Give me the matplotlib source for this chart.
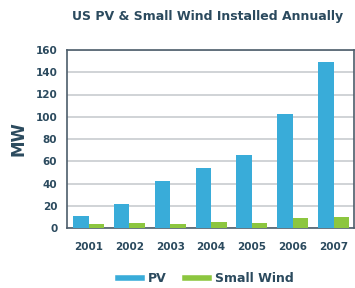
import matplotlib
matplotlib.use("Agg")
import matplotlib.pyplot as plt
from matplotlib.lines import Line2D
import numpy as np

years = ["2001", "2002", "2003", "2004", "2005", "2006", "2007"]
pv = [11, 22, 42.5, 54, 66, 102.5, 149.5]
small_wind = [3.3, 4.2, 3.3, 5.1, 4.5, 8.7, 10.2]

pv_color = "#39acd9"
wind_color = "#8cc63f"
text_color = "#2b4a5e"
spine_color = "#4d5e6b"
grid_color = "#c8ccd0"

plt.rcParams['font.family'] = ['DejaVu Sans']

fig = plt.figure(figsize=(3.55, 2.88), dpi=100)
ax = fig.add_axes([67/355, 1 - 228/288, (354-67)/355, (228-50)/288])

x = np.arange(len(years))
w = 0.38
ax.bar(x - w/2, pv, w, color=pv_color, zorder=3)
ax.bar(x + w/2, small_wind, w, color=wind_color, zorder=3)

ax.set_xlim(-0.53, 6.5)
ax.set_ylim(0, 160)
ax.set_yticks(range(0, 161, 20))
ax.set_xticks(x)
ax.set_xticklabels(years)
ax.yaxis.grid(True, color=grid_color, linewidth=1.2, zorder=0)
ax.tick_params(axis='both', length=0, colors=text_color, labelsize=7.5)
ax.tick_params(axis='x', pad=10)
ax.tick_params(axis='y', pad=7)
for lab in ax.get_xticklabels() + ax.get_yticklabels():
    lab.set_fontweight('bold')
for s in ax.spines.values():
    s.set_color(spine_color)
    s.set_linewidth(1.2)

ax.set_ylabel("MW", fontsize=12, fontweight='bold', color=text_color)
ax.yaxis.set_label_coords(-0.138, 0.5)
fig.text(0.585, 0.942, "US PV & Small Wind Installed Annually", ha='center', va='center',
         fontsize=9, fontweight='bold', color=text_color)

handles = [Line2D([0], [0], color=pv_color, lw=4),
           Line2D([0], [0], color=wind_color, lw=4)]
leg = fig.legend(handles, ["PV", "Small Wind"], loc='center', bbox_to_anchor=(0.58, 0.032),
                 ncol=2, frameon=False, handlelength=1.9, columnspacing=1.5,
                 handletextpad=0.45, prop={'weight': 'bold', 'size': 9})
for t in leg.get_texts():
    t.set_color(text_color)

fig.savefig("out.png", dpi=100)
